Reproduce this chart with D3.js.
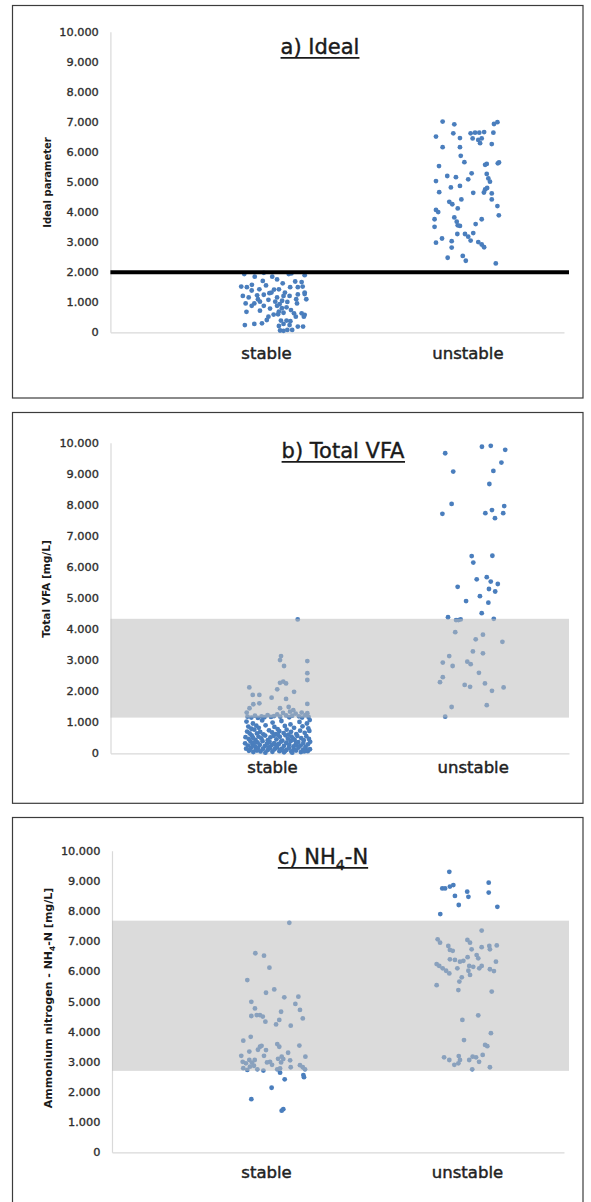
<!DOCTYPE html>
<html>
<head>
<meta charset="utf-8">
<script src="https://cdn.jsdelivr.net/npm/d3@7"></script>
<style>
  body { margin: 0; background: #fff; }
  svg { display: block; }
</style>
</head>
<body>
<svg id="chart" width="591" height="1202"></svg>
<script>
// ---- data ---------------------------------------------------------------
const categories = ["stable", "unstable"];
const yTickValues = [0, 1000, 2000, 3000, 4000, 5000, 6000, 7000, 8000, 9000, 10000];
const yTickLabels = ["0", "1.000", "2.000", "3.000", "4.000", "5.000", "6.000", "7.000", "8.000", "9.000", "10.000"];

// a) Ideal parameter: threshold separating stable / unstable
const idealThreshold = 2000;
// b) Total VFA and c) NH4-N: shaded overlap ranges
const vfaBand = [1150, 4330];
const nh4Band = [2700, 7680];

// each point: [jittered category position (1 = stable, 2 = unstable), value]
const idealStable = [
  [0.892,1940],[0.944,1850],[0.989,1980],[1.031,1850],[1.113,1940],[1.126,1960],[1.192,1900],
  [1.055,1760],[0.984,1710],[1.083,1630],[1.145,1690],[1.177,1670],[0.877,1520],[0.905,1500],
  [0.929,1390],[0.967,1430],[1.027,1320],[1.064,1430],[1.094,1320],[1.158,1500],[1.182,1520],
  [1.192,1320],[0.885,1210],[0.914,1160],[0.956,1230],[0.989,1250],[1.017,1300],[1.055,1160],
  [1.087,1210],[1.117,1210],[1.158,1260],[1.192,1270],[0.899,960],[0.942,960],[0.970,1020],
  [1.012,1080],[1.046,1020],[1.068,940],[1.106,1010],[1.154,960],[0.929,880],[0.989,880],
  [1.055,880],[1.079,800],[1.102,830],[1.124,740],[0.903,680],[0.970,720],[1.064,690],
  [1.087,650],[1.139,630],[1.177,630],[1.192,580],[1.012,520],[1.038,590],[1.148,520],
  [1.188,520],[1.004,410],[1.074,390],[1.102,390],[1.121,370],[0.895,240],[0.942,280],
  [0.980,300],[1.064,210],[1.087,280],[1.117,240],[1.158,190],[1.184,190],[1.070,60],
  [1.087,50],[1.106,80],[1.130,80],[0.930,1580],[1.000,1560],[1.040,1420],[1.150,1100],
  [1.060,600],[0.960,1100],[1.120,1500],[1.020,790],[1.080,1050],[1.200,1100]
];
const idealUnstable = [
  [1.877,7010],[1.935,6920],[2.132,6930],[2.149,6990],[1.844,6510],[1.930,6620],[1.963,6460],
  [2.016,6620],[2.038,6640],[2.059,6640],[2.083,6660],[2.026,6450],[2.054,6400],[2.063,6290],
  [2.071,6450],[2.129,6640],[1.877,6160],[1.963,6160],[2.121,6260],[1.967,5870],[1.985,5660],
  [1.859,5530],[2.088,5570],[2.096,5600],[2.151,5620],[2.157,5650],[1.844,5030],[1.900,5200],
  [1.943,5160],[2.004,5090],[2.021,5290],[2.096,5270],[2.104,5120],[2.112,5010],[1.918,4820],
  [1.963,4870],[1.860,4660],[2.029,4640],[2.088,4750],[2.098,4800],[2.082,4650],[2.121,4620],
  [2.121,4420],[1.910,4340],[1.925,4260],[1.970,4420],[1.952,4120],[2.149,4200],[1.844,4070],
  [1.855,4000],[2.156,3890],[1.935,3820],[1.947,3680],[1.952,3560],[1.963,3540],[1.837,3760],
  [1.837,3510],[2.041,3600],[2.071,3760],[1.950,3270],[1.988,3270],[2.004,3180],[2.016,3050],
  [2.029,3300],[1.874,3120],[1.844,2980],[1.922,3030],[1.922,2820],[2.054,3000],[2.071,2920],
  [2.083,2830],[1.902,2480],[1.977,2540],[1.992,2380],[2.141,2290]
];

const vfaStable = [
  [1.128,4310],[1.045,3130],[1.040,3000],[1.060,2810],[1.176,2970],[1.176,2580],[1.176,2360],
  [1.040,2270],[1.056,2310],[1.070,2250],[1.026,2060],[1.110,1980],[0.887,2120],[0.904,1880],
  [0.937,1880],[0.998,1790],[1.070,1750],[0.907,1580],[0.937,1610],[1.176,1590],[0.874,1310],
  [0.888,1450],[1.040,1450],[1.090,1340],[1.106,1390],[1.083,1490],[1.148,1310],[1.176,1290],
  [0.878,1180],[0.897,1150],[0.915,1210],[0.930,1140],[0.948,1190],[0.962,1160],[0.978,1230],
  [0.995,1170],[1.010,1200],[1.026,1250],[1.041,1180],[1.055,1300],[1.070,1220],[1.086,1160],
  [1.101,1210],[1.118,1280],[1.134,1190],[1.150,1150],[1.166,1230],[1.182,1170],
  [0.873,1020],[0.905,960],[0.951,1060],[1.003,990],[1.047,1040],[1.092,930],[1.137,1010],
  [1.174,960],[1.188,1070],[0.922,890],[0.882,860],[0.934,820],[0.968,900],[1.012,850],
  [1.028,780],[1.064,880],[1.110,820],[1.152,870],[1.181,800],[0.897,790],
  [0.876,700],[0.889,640],[0.912,760],[0.941,690],[0.957,610],[0.985,740],[1.001,670],
  [1.019,620],[1.036,710],[1.058,650],[1.073,760],[1.095,690],[1.121,620],[1.140,730],
  [1.163,660],[1.186,720],[0.925,640],[1.082,600],
  [0.868,520],[0.884,460],[0.899,580],[0.918,430],[0.933,540],[0.947,480],[0.966,570],
  [0.979,420],[0.992,510],[1.008,560],[1.022,450],[1.039,530],[1.051,410],[1.067,580],
  [1.079,470],[1.097,540],[1.113,430],[1.126,560],[1.145,490],[1.158,420],[1.171,550],
  [1.184,460],[0.905,500],[1.030,590],[1.104,480],
  [0.866,320],[0.880,250],[0.893,380],[0.903,290],[0.916,220],[0.928,350],[0.939,270],
  [0.953,390],[0.964,230],[0.975,310],[0.988,370],[0.997,260],[1.011,330],[1.024,210],
  [1.034,300],[1.046,380],[1.060,240],[1.071,340],[1.085,280],[1.093,390],[1.107,220],
  [1.119,310],[1.131,360],[1.143,250],[1.156,330],[1.167,210],[1.179,290],[1.190,370],
  [0.910,340],[1.015,280],[1.123,260],
  [0.871,150],[0.885,80],[0.896,180],[0.907,40],[0.919,120],[0.931,170],[0.943,60],
  [0.955,140],[0.967,20],[0.978,100],[0.990,160],[1.002,50],[1.013,130],[1.025,190],
  [1.037,70],[1.049,150],[1.060,30],[1.072,110],[1.084,170],[1.096,60],[1.108,140],
  [1.120,90],[1.132,180],[1.144,40],[1.155,120],[1.167,160],[1.178,70],[1.189,130],
  [0.925,90],[0.984,190],[1.042,110],[1.101,20],[1.160,60],[0.890,120],[1.066,80]
];
const vfaUnstable = [
  [1.863,9660],[2.046,9870],[2.090,9900],[2.162,9770],[2.143,9360],[1.903,9070],[2.103,9090],
  [2.083,8670],[1.895,8030],[1.849,7710],[2.063,7730],[2.096,7830],[2.111,7570],[2.152,7730],
  [2.157,7960],[1.995,6350],[2.098,6360],[2.003,6140],[1.925,5360],[2.020,5600],[2.070,5670],
  [2.090,5530],[2.125,5450],[2.081,5290],[2.112,5210],[1.967,4900],[2.036,5060],[2.078,4850],
  [2.045,4510],[1.877,4380],[1.917,4290],[1.929,4290],[1.940,4310],[2.105,4330],[1.913,3900],
  [2.051,3820],[2.015,3670],[2.148,3590],[2.001,3280],[2.051,3220],[1.883,3130],[1.851,2920],
  [1.900,2810],[1.973,2950],[1.990,2870],[2.031,2590],[1.851,2450],[1.837,2290],[1.960,2200],
  [1.987,2140],[2.061,2250],[2.096,2010],[2.154,2120],[1.895,1490],[2.070,1550],[1.863,1180]
];

const nh4Stable = [
  [1.116,7610],[0.947,6600],[0.990,6520],[1.017,6120],[0.907,5710],[1.000,5290],[1.041,5400],
  [1.161,5160],[1.091,5140],[0.927,4990],[0.945,4770],[1.146,4920],[1.169,4720],[1.075,4660],
  [0.927,4520],[0.954,4550],[0.970,4550],[0.984,4500],[0.997,4330],[1.066,4390],[1.183,4440],
  [1.050,4240],[1.123,4200],[0.887,3700],[0.924,3830],[0.970,3500],[0.978,3530],[1.056,3590],
  [1.066,3500],[1.166,3540],[0.877,3200],[0.917,3340],[0.990,3200],[1.000,3390],[1.078,3170],
  [1.086,3090],[1.196,3170],[0.884,3000],[0.900,2950],[0.917,3060],[0.930,2970],[0.944,3060],
  [1.020,3000],[1.060,3100],[1.075,2980],[1.120,3050],[1.169,2890],[0.887,2790],[0.907,2730],
  [0.920,2840],[0.957,2750],[0.987,2710],[1.056,2750],[1.070,2780],[1.123,2820],[1.183,2820],
  [1.194,2750],[1.070,2640],[1.093,2420],[1.186,2560],[1.189,2490],[1.028,2140],[0.927,1760],
  [1.078,1380],[1.086,1430],[0.960,3400],[1.030,2900],[1.110,3300],[0.940,2870],[1.005,2980]
];
const nh4Unstable = [
  [1.912,9300],[1.877,8750],[1.891,8750],[1.915,8810],[1.932,8860],[2.108,8940],[2.108,8610],
  [1.940,8500],[2.001,8640],[2.007,8470],[1.959,8200],[2.151,8140],[1.867,7900],[2.073,7350],
  [1.854,7060],[1.866,6950],[1.907,6840],[1.915,6710],[1.929,6680],[2.002,7040],[2.015,6950],
  [2.073,6800],[2.111,6840],[2.114,6730],[2.148,6860],[2.023,6730],[2.048,6540],[2.056,6430],
  [2.144,6320],[1.915,6400],[1.940,6380],[1.965,6320],[1.982,6350],[2.003,6470],[2.011,6180],
  [2.031,6150],[2.073,6180],[1.849,6240],[1.862,6180],[1.879,6100],[1.896,6020],[1.912,5930],
  [1.952,6100],[2.007,6020],[2.061,6100],[2.114,6070],[2.134,6010],[1.974,5800],[1.962,5660],
  [2.015,5880],[1.849,5540],[1.957,5380],[2.123,5330],[2.056,4540],[1.977,4390],[2.119,3950],
  [1.985,3720],[2.090,3560],[2.101,3520],[1.886,3150],[1.912,3060],[1.959,3190],[1.965,3060],
  [1.957,2950],[2.011,3060],[2.028,3170],[2.045,3150],[2.078,3230],[2.026,2750],[2.114,2820],
  [1.937,2900],[2.060,3000]
];

// ---- layout & style -----------------------------------------------------
const FONT = "'DejaVu Sans', 'Liberation Sans', sans-serif";
const POINT_COLOR = "#4a7ebd";
const AXIS_COLOR = "#d9d9d9";

const panels = [
  {
    frame: { x0: 12.5, y0: 5.5, x1: 583, y1: 398 },
    yRange: [332.3, 31.7], xAxis: [110.4, 564], plotRight: 569, catPos: [266, 467.4],
    title: { x: 320, y: 54.3, parts: [["a) Ideal"]] },
    yTitle: { x: 47, y: 182.5, size: 10, parts: [["Ideal parameter"]] },
    catY: 359.3,
    stable: idealStable, unstable: idealUnstable, threshold: idealThreshold
  },
  {
    frame: { x0: 12.5, y0: 412.5, x1: 583, y1: 803.3 },
    yRange: [753.3, 442.7], xAxis: [110.5, 569], plotRight: 569, catPos: [272, 472.7],
    title: { x: 343, y: 458.3, parts: [["b) Total VFA"]] },
    yTitle: { x: 46.5, y: 589, size: 10.6, parts: [["Total VFA [mg/L]"]] },
    catY: 773.3,
    stable: vfaStable, unstable: vfaUnstable, band: vfaBand
  },
  {
    frame: { x0: 12.5, y0: 817.5, x1: 583, y1: 1210 },
    yRange: [1152.3, 850.7], xAxis: [112, 564], plotRight: 569, catPos: [266, 467],
    title: { x: 323, y: 864.3, parts: [["c) NH"], ["4", "sub"], ["-N"]] },
    yTitle: { x: 48, y: 998, size: 11, parts: [["Ammonium nitrogen - NH"], ["4", "sub"], ["-N [mg/L]"]] },
    catY: 1177.7,
    stable: nh4Stable, unstable: nh4Unstable, band: nh4Band
  }
];

const svg = d3.select("#chart");

// Writes text parts into a <text>, lowering subscript parts
function writeParts(textSel, parts, size) {
  parts.forEach(([str, kind], i) => {
    const t = textSel.append("tspan").text(str);
    if (kind === "sub") {
      t.attr("font-size", size * 0.68).attr("dy", size * 0.28);
    } else if (i > 0 && parts[i - 1][1] === "sub") {
      t.attr("dy", -size * 0.28);
    }
  });
}

// slightly heavier strokes on text, like the printed chart
function heavy(sel, color, w) {
  sel.attr("fill", color).attr("stroke", color).attr("stroke-width", w)
    .attr("paint-order", "stroke");
}

panels.forEach(p => {
  const g = svg.append("g");

  // frame around the panel
  g.append("rect")
    .attr("x", p.frame.x0).attr("y", p.frame.y0)
    .attr("width", p.frame.x1 - p.frame.x0).attr("height", p.frame.y1 - p.frame.y0)
    .attr("fill", "none").attr("stroke", "#3c3c3c").attr("stroke-width", 1.2);

  const y = d3.scaleLinear().domain([0, 10000]).range(p.yRange);
  const step = p.catPos[1] - p.catPos[0];
  const x = d3.scaleLinear()
    .domain([1 - (p.catPos[0] - p.xAxis[0]) / step, 2 + (p.xAxis[1] - p.catPos[1]) / step])
    .range(p.xAxis);

  // x axis line with category labels
  const xAxis = g.append("g")
    .attr("transform", `translate(0,${p.yRange[0]})`)
    .call(d3.axisBottom(x).tickValues([1, 2]).tickFormat(d => categories[d - 1])
      .tickSize(0).tickSizeOuter(0));
  xAxis.select(".domain").attr("stroke", AXIS_COLOR).attr("stroke-width", 1.2);
  xAxis.selectAll("text")
    .attr("dy", null).attr("y", p.catY - p.yRange[0])
    .attr("font-family", FONT).attr("font-size", 16.5)
    .call(heavy, "#222", 0.45);

  // y axis with dotted-thousands labels
  const yAxis = g.append("g")
    .attr("transform", `translate(${p.xAxis[0]},0)`)
    .call(d3.axisLeft(y).tickValues(yTickValues).tickFormat((d, i) => yTickLabels[i])
      .tickSize(0).tickSizeOuter(0).tickPadding(11.6));
  yAxis.select(".domain").attr("stroke", AXIS_COLOR).attr("stroke-width", 1.2);
  yAxis.selectAll("text")
    .attr("font-family", FONT).attr("font-size", 11.3)
    .call(heavy, "#2e2e2e", 0.35);

  // scatter points
  const pts = g.append("g");
  [p.stable, p.unstable].forEach(series => {
    pts.selectAll(null).data(series).enter().append("circle")
      .attr("cx", d => x(d[0])).attr("cy", d => y(d[1]))
      .attr("r", 2.4)
      .attr("fill", POINT_COLOR);
  });

  // translucent range band drawn over the points
  if (p.band) {
    g.append("rect")
      .attr("x", p.xAxis[0]).attr("width", p.plotRight - p.xAxis[0])
      .attr("y", y(p.band[1])).attr("height", y(p.band[0]) - y(p.band[1]))
      .attr("fill", "#bdbdbd").attr("fill-opacity", 0.55);
  }

  // threshold line
  if (p.threshold !== undefined) {
    g.append("line")
      .attr("x1", p.xAxis[0]).attr("x2", p.plotRight)
      .attr("y1", y(p.threshold)).attr("y2", y(p.threshold))
      .attr("stroke", "#000").attr("stroke-width", 4);
  }

  // underlined panel title
  const titleSize = 21;
  const title = g.append("text")
    .attr("x", p.title.x).attr("y", p.title.y)
    .attr("text-anchor", "middle")
    .attr("font-family", FONT).attr("font-size", titleSize)
    .call(heavy, "#1a1a1a", 0.4);
  writeParts(title, p.title.parts, titleSize);
  const bb = title.node().getBBox();
  g.append("line")
    .attr("x1", bb.x).attr("x2", bb.x + bb.width)
    .attr("y1", p.title.y + 3.6).attr("y2", p.title.y + 3.6)
    .attr("stroke", "#1a1a1a").attr("stroke-width", 1.8);

  // rotated y axis title
  const yt = g.append("text")
    .attr("transform", `translate(${p.yTitle.x},${p.yTitle.y}) rotate(-90)`)
    .attr("text-anchor", "middle").attr("dy", "0.35em")
    .attr("font-family", FONT).attr("font-weight", "bold")
    .attr("font-size", p.yTitle.size).attr("fill", "#1a1a1a");
  writeParts(yt, p.yTitle.parts, p.yTitle.size);
});
</script>
</body>
</html>
